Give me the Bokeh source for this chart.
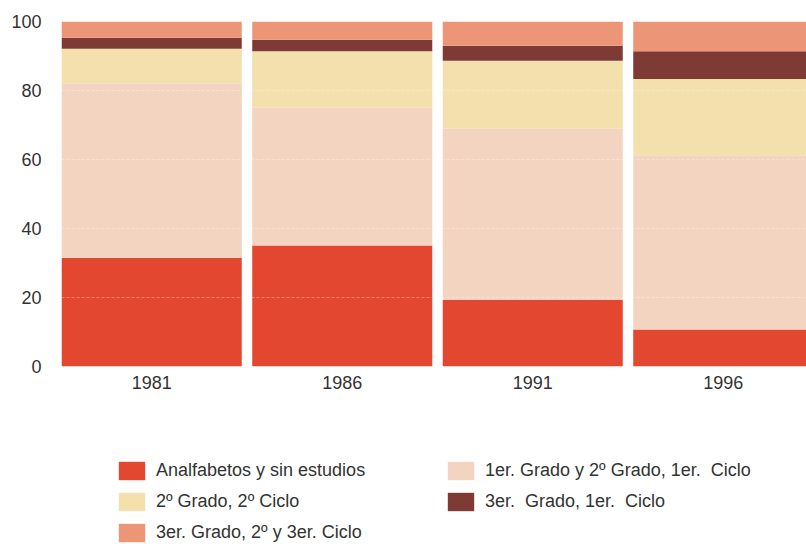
from bokeh.plotting import figure
from bokeh.layouts import column
from bokeh.models import (ColumnDataSource, Range1d, FixedTicker, Legend, LegendItem)
from bokeh.embed import file_html
from bokeh.resources import INLINE

years = ["1981", "1986", "1991", "1996"]
analfabetos = [31.5, 35.1, 19.3, 10.7]
primer_grado = [50.6, 40.0, 49.6, 50.5]
segundo_grado = [10.0, 16.3, 19.7, 22.1]
tercer_1 = [3.2, 3.3, 4.4, 8.1]
tercer_2 = [4.7, 5.3, 7.0, 8.6]

labels = ["Analfabetos y sin estudios", "1er. Grado y 2º Grado, 1er.  Ciclo",
          "2º Grado, 2º Ciclo", "3er.  Grado, 1er.  Ciclo",
          "3er. Grado, 2º y 3er. Ciclo"]
keys = ["a", "b", "c", "d", "e"]
colors = ["#E4472F", "#F3D4C0", "#F4E0AC", "#7E3B36", "#EC9577"]

src = ColumnDataSource(dict(x=list(range(len(years))), a=analfabetos, b=primer_grado,
                            c=segundo_grado, d=tercer_1, e=tercer_2))

FONT = "Liberation Sans"
TXT = "#333333"

p = figure(width=806, height=420, output_backend="svg", toolbar_location=None,
           x_range=Range1d(-0.5, 3.437), y_range=Range1d(0, 100),
           min_border_left=56, min_border_top=21, min_border_right=0,
           min_border_bottom=54)
p.outline_line_color = None
p.background_fill_color = "white"
p.border_fill_color = "white"

rs = p.vbar_stack(keys, x="x", width=0.945, color=colors, line_color=None, source=src)

p.xaxis.ticker = FixedTicker(ticks=list(range(len(years))))
p.xaxis.major_label_overrides = {i: y for i, y in enumerate(years)}
p.yaxis.ticker = FixedTicker(ticks=[0, 20, 40, 60, 80, 100])
for ax in (p.xaxis[0], p.yaxis[0]):
    ax.axis_line_color = None
    ax.major_tick_line_color = None
    ax.minor_tick_line_color = None
    ax.major_tick_out = 0
    ax.major_tick_in = 0
    ax.major_label_text_font = FONT
    ax.major_label_text_font_size = "18px"
    ax.major_label_text_color = TXT
p.yaxis.major_label_standoff = 15
p.xaxis.major_label_standoff = 9

p.xgrid.grid_line_color = None
p.ygrid.ticker = FixedTicker(ticks=[20, 40, 60, 80])
p.ygrid.grid_line_color = "white"
p.ygrid.grid_line_alpha = 0.3
p.ygrid.grid_line_dash = "3 2"
p.ygrid.level = "overlay"

# legend panel (separate figure below the chart; its bars lie just outside its view)
lp = figure(width=806, height=124, output_backend="svg", toolbar_location=None,
            x_range=Range1d(-0.5, 3.437), y_range=Range1d(101, 102),
            min_border_left=0, min_border_right=0, min_border_top=0, min_border_bottom=0)
lp.axis.visible = False
lp.grid.visible = False
lp.outline_line_color = None
lp.background_fill_color = "white"
lp.border_fill_color = "white"
lrs = lp.vbar_stack(keys, x="x", width=0.9, color=colors, line_color=None, source=src)

items = [LegendItem(label=l, renderers=[r]) for l, r in zip(labels, lrs)]
legend = Legend(items=items, location=(59, 0), orientation="horizontal", ncols=2,
                glyph_width=33, glyph_height=23, label_height=23, label_width=280,
                label_standoff=8, spacing=8, padding=0, margin=0,
                label_text_font=FONT, label_text_font_size="18px",
                label_text_color=TXT, label_text_baseline="middle",
                background_fill_alpha=0, border_line_alpha=0)
lp.add_layout(legend, "center")

open("out.html", "w").write(file_html(column(p, lp, spacing=0), INLINE))
